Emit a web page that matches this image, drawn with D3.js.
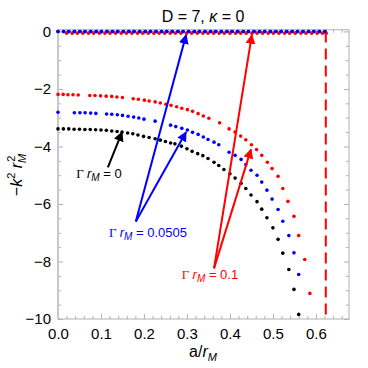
<!DOCTYPE html>
<html>
<head>
<meta charset="utf-8">
<script src="https://cdn.jsdelivr.net/npm/d3@7.9.0/dist/d3.min.js"></script>
<style>
  body { margin: 0; background: #fff; }
  svg { display: block; font-family: "Liberation Sans", Arial, sans-serif; }
</style>
</head>
<body>
<svg id="chart" width="368" height="368"></svg>
<script>
// lower branch, Gamma r_M = 0 (black)
const blackA = [0, 0.0125, 0.025, 0.0375, 0.05, 0.0625, 0.075, 0.0875, 0.1, 0.1125, 0.125, 0.1375, 0.149, 0.162, 0.174, 0.186, 0.199, 0.212, 0.226, 0.238, 0.25, 0.262, 0.272, 0.287, 0.3, 0.312, 0.325, 0.337, 0.349, 0.363, 0.374, 0.386, 0.4, 0.412, 0.426, 0.437, 0.449, 0.463, 0.474, 0.486, 0.5, 0.512, 0.523, 0.537, 0.549, 0.56];
const blackK = [-3.39, -3.39, -3.39, -3.4, -3.4, -3.41, -3.41, -3.42, -3.43, -3.44, -3.46, -3.48, -3.5, -3.53, -3.56, -3.6, -3.65, -3.69, -3.73, -3.78, -3.83, -3.88, -3.91, -3.99, -4.08, -4.17, -4.25, -4.32, -4.42, -4.55, -4.66, -4.8, -4.95, -5.1, -5.28, -5.46, -5.69, -5.92, -6.18, -6.48, -6.83, -7.23, -7.71, -8.28, -8.97, -9.84];

// lower branch, Gamma r_M = 0.0505 (blue)
const blueA = [0, 0.038, 0.051, 0.063, 0.076, 0.088, 0.113, 0.125, 0.138, 0.15, 0.163, 0.176, 0.188, 0.2, 0.226, 0.262, 0.274, 0.288, 0.301, 0.313, 0.326, 0.338, 0.349, 0.363, 0.374, 0.398, 0.412, 0.426, 0.437, 0.449, 0.463, 0.474, 0.486, 0.498, 0.512, 0.523, 0.537, 0.549, 0.56];
const blueK = [-2.81, -2.83, -2.83, -2.83, -2.84, -2.85, -2.87, -2.88, -2.9, -2.92, -2.95, -2.98, -3.01, -3.05, -3.12, -3.26, -3.31, -3.37, -3.43, -3.51, -3.58, -3.67, -3.76, -3.85, -3.94, -4.2, -4.31, -4.45, -4.63, -4.83, -5.0, -5.24, -5.52, -5.83, -6.19, -6.6, -7.1, -7.7, -8.45];

// lower branch, Gamma r_M = 0.1 (red)
const redA = [0, 0.012, 0.023, 0.035, 0.047, 0.074, 0.086, 0.099, 0.112, 0.125, 0.137, 0.15, 0.175, 0.187, 0.201, 0.212, 0.226, 0.238, 0.251, 0.263, 0.276, 0.288, 0.301, 0.313, 0.326, 0.338, 0.351, 0.376, 0.398, 0.412, 0.425, 0.437, 0.45, 0.462, 0.474, 0.487, 0.498, 0.512, 0.523, 0.535, 0.549, 0.56, 0.574, 0.586];
const redK = [-2.19, -2.19, -2.2, -2.2, -2.21, -2.23, -2.23, -2.24, -2.25, -2.26, -2.28, -2.3, -2.34, -2.36, -2.39, -2.42, -2.45, -2.49, -2.53, -2.57, -2.62, -2.67, -2.72, -2.78, -2.86, -2.94, -3.02, -3.18, -3.39, -3.5, -3.64, -3.77, -3.94, -4.11, -4.31, -4.55, -4.77, -5.04, -5.46, -5.91, -6.43, -7.1, -7.93, -9.11];

// upper branch (near zero)
const topA = [0, 0.013, 0.025, 0.038, 0.051, 0.063, 0.076, 0.089, 0.101, 0.114, 0.127, 0.139, 0.152, 0.165, 0.177, 0.19, 0.203, 0.215, 0.228, 0.241, 0.253, 0.266, 0.279, 0.291, 0.304, 0.317, 0.329, 0.342, 0.355, 0.367, 0.38, 0.393, 0.405, 0.418, 0.431, 0.443, 0.456, 0.469, 0.481, 0.494, 0.507, 0.519, 0.532, 0.545, 0.557, 0.57, 0.583, 0.595, 0.608, 0.621];
const redTopA = [0.02, 0.033, 0.045, 0.058, 0.071, 0.083, 0.096, 0.109, 0.121, 0.134, 0.147, 0.159, 0.172, 0.185, 0.197, 0.21, 0.223, 0.235, 0.248, 0.261, 0.273, 0.286, 0.299, 0.311, 0.324, 0.337, 0.349, 0.362, 0.375, 0.387, 0.4, 0.413, 0.425, 0.438, 0.451, 0.463, 0.476, 0.489, 0.501, 0.514, 0.527, 0.539, 0.552, 0.565, 0.577, 0.59, 0.603, 0.615, 0.624];
const blueTopK = 0;
const redTopK = -0.06;

const aLimit = 0.623;

const xTicks = [0, 0.1, 0.2, 0.3, 0.4, 0.5, 0.6];
const yTicks = [0, -2, -4, -6, -8, -10];

const svg = d3.select('#chart');
const x = d3.scaleLinear().domain([0, 0.677]).range([58, 349]);
const y = d3.scaleLinear().domain([-10, 0.06]).range([319, 29.7]);

const frameColor = '#b0b0b0';

// minor ticks
const xMinor = d3.range(0, 0.677, 0.02).filter(v => Math.abs(v * 10 - Math.round(v * 10)) > 1e-6);
const yMinor = d3.range(-10, 0.01, 0.5).filter(v => Math.abs(v / 2 - Math.round(v / 2)) > 1e-6);

function tickStyle(g) {
    g.select('.domain').remove();
    g.selectAll('line').attr('stroke', frameColor);
}

svg.append('g').attr('transform', 'translate(0,319)')
   .call(d3.axisBottom(x).tickValues(xTicks).tickSize(-5).tickFormat(d3.format('.1f')).tickPadding(9))
   .call(tickStyle)
   .selectAll('text').attr('font-size', 15).attr('fill', '#000').attr('font-family', '"Liberation Sans", Arial, sans-serif');
svg.append('g').attr('transform', 'translate(0,319)')
   .call(d3.axisBottom(x).tickValues(xMinor).tickSize(-3).tickFormat(''))
   .call(tickStyle);
svg.append('g').attr('transform', 'translate(0,29.7)')
   .call(d3.axisTop(x).tickValues(xTicks).tickSize(-5).tickFormat(''))
   .call(tickStyle);
svg.append('g').attr('transform', 'translate(0,29.7)')
   .call(d3.axisTop(x).tickValues(xMinor).tickSize(-3).tickFormat(''))
   .call(tickStyle);

svg.append('g').attr('transform', 'translate(58,0)')
   .call(d3.axisLeft(y).tickValues(yTicks).tickSize(-5).tickPadding(7).tickFormat(d => d === 0 ? '0' : '\u2212' + Math.abs(d)))
   .call(tickStyle)
   .selectAll('text').attr('font-size', 15).attr('fill', '#000').attr('font-family', '"Liberation Sans", Arial, sans-serif');
svg.append('g').attr('transform', 'translate(58,0)')
   .call(d3.axisLeft(y).tickValues(yMinor).tickSize(-3).tickFormat(''))
   .call(tickStyle);
svg.append('g').attr('transform', 'translate(349,0)')
   .call(d3.axisRight(y).tickValues(yTicks).tickSize(-5).tickFormat(''))
   .call(tickStyle);
svg.append('g').attr('transform', 'translate(349,0)')
   .call(d3.axisRight(y).tickValues(yMinor).tickSize(-3).tickFormat(''))
   .call(tickStyle);

// frame
svg.append('rect')
   .attr('x', 58).attr('y', 29.7)
   .attr('width', 349 - 58).attr('height', 319 - 29.7)
   .attr('fill', 'none').attr('stroke', frameColor).attr('stroke-width', 1);
svg.append('line')
   .attr('x1', 58).attr('x2', 58).attr('y1', 29.7).attr('y2', 319)
   .attr('stroke', '#c8c8c8').attr('stroke-width', 2);

// dashed limit
svg.append('line')
   .attr('x1', x(aLimit)).attr('x2', x(aLimit))
   .attr('y1', y(0)).attr('y2', y(-10))
   .attr('stroke', '#ff0000').attr('stroke-width', 2)
   .attr('stroke-dasharray', '11,6');

function dots(as, ks, color) {
    svg.append('g').selectAll('circle')
       .data(as.map((a, i) => [a, Array.isArray(ks) ? ks[i] : ks]))
       .join('circle')
       .attr('cx', d => x(d[0]))
       .attr('cy', d => y(d[1]))
       .attr('r', 1.8)
       .attr('fill', color);
}

dots(blackA, blackK, '#000');
dots(blueA, blueK, '#0000ff');
dots(redA, redK, '#ff0000');
dots(topA, blueTopK, '#000');
dots(redTopA, redTopK, '#ff0000');
dots(topA, blueTopK, '#0000ff');

// arrows
const defs = svg.append('defs');
[['black', '#000'], ['blue', '#0000ff'], ['red', '#ff0000']].forEach(([id, c]) => {
    defs.append('marker')
        .attr('id', 'head-' + id)
        .attr('viewBox', '0 0 10 10')
        .attr('refX', 9).attr('refY', 5)
        .attr('markerWidth', 5).attr('markerHeight', 5)
        .attr('markerUnits', 'strokeWidth')
        .attr('orient', 'auto')
        .append('path').attr('d', 'M0,0 L10,5 L0,10 Z').attr('fill', c);
});

const arrows = [
    { from: [0.116, -4.73], to: [0.149, -3.5], c: '#000', id: 'black' },
    { from: [0.181, -6.61], to: [0.298, -0.12], c: '#0000ff', id: 'blue' },
    { from: [0.181, -6.61], to: [0.298, -3.5], c: '#0000ff', id: 'blue' },
    { from: [0.363, -8.24], to: [0.451, -0.12], c: '#ff0000', id: 'red' },
    { from: [0.363, -8.24], to: [0.449, -4.1], c: '#ff0000', id: 'red' },
];
arrows.forEach(d => {
    svg.append('line')
       .attr('x1', x(d.from[0])).attr('y1', y(d.from[1]))
       .attr('x2', x(d.to[0])).attr('y2', y(d.to[1]))
       .attr('stroke', d.c).attr('stroke-width', 2)
       .attr('marker-end', `url(#head-${d.id})`);
});

// labels
function gammaLabel(cx, cy, value, color) {
    const t = svg.append('text')
        .attr('x', cx).attr('y', cy)
        .attr('text-anchor', 'middle')
        .attr('font-size', 13).attr('fill', color);
    t.append('tspan').attr('font-family', '"Liberation Serif", "Times New Roman", serif').text('\u0393 ');
    t.append('tspan').attr('font-style', 'italic').text('r');
    t.append('tspan').attr('font-style', 'italic').attr('font-size', 10).attr('dy', 3).text('M');
    t.append('tspan').attr('dy', -3).text(' = ' + value);
}
gammaLabel(99, 178, '0', '#000');
gammaLabel(148, 237, '0.0505', '#0000ff');
gammaLabel(210, 279, '0.1', '#ff0000');

// title
const title = svg.append('text')
    .attr('x', 203).attr('y', 22)
    .attr('text-anchor', 'middle').attr('font-size', 16).attr('fill', '#000');
title.append('tspan').text('D = 7, ');
title.append('tspan').attr('font-style', 'italic').text('\u03ba');
title.append('tspan').text(' = 0');

// x label
const xl = svg.append('text')
    .attr('x', 203).attr('y', 357)
    .attr('text-anchor', 'middle').attr('font-size', 16).attr('fill', '#000');
xl.append('tspan').text('a/');
xl.append('tspan').attr('font-style', 'italic').text('r');
xl.append('tspan').attr('font-style', 'italic').attr('font-size', 11).attr('dy', 4).text('M');

// y label
const yl = svg.append('text')
    .attr('transform', 'translate(22,175) rotate(-90)')
    .attr('text-anchor', 'middle').attr('font-size', 16).attr('fill', '#000');
yl.append('tspan').text('\u2212');
yl.append('tspan').attr('font-style', 'italic').text('k');
yl.append('tspan').attr('font-size', 11).attr('dy', -7).text('2');
yl.append('tspan').attr('font-style', 'italic').attr('dy', 7).text(' r');
yl.append('tspan').attr('font-style', 'italic').attr('font-size', 11).attr('dy', 4).text('M');
yl.append('tspan').attr('font-size', 11).attr('dx', -8).attr('dy', -11).text('2');
</script>
</body>
</html>
